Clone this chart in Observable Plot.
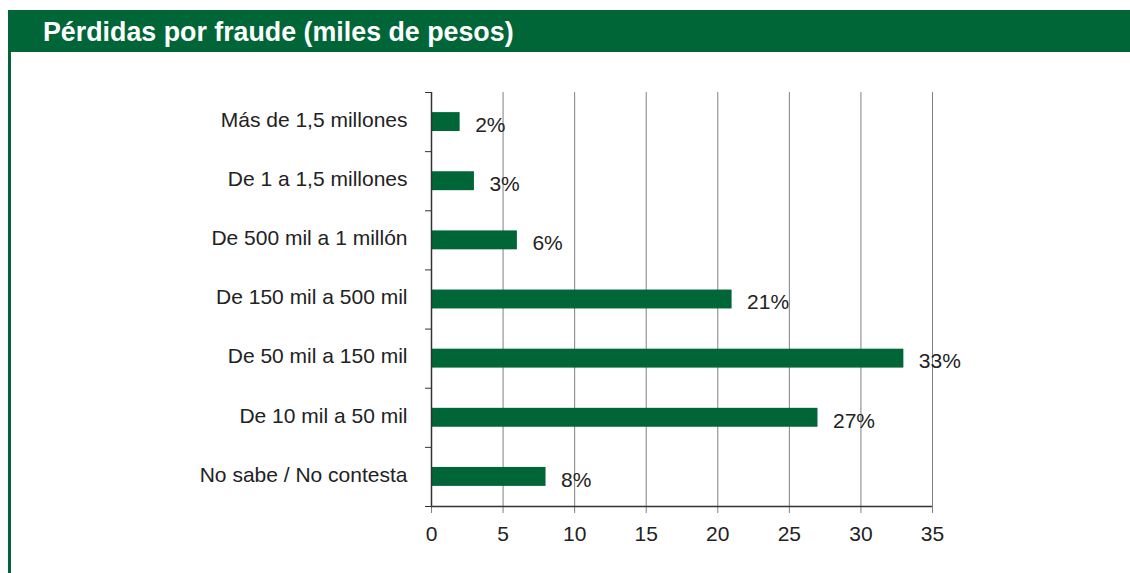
<!DOCTYPE html>
<html>
<head>
<meta charset="utf-8">
<script src="https://cdn.jsdelivr.net/npm/d3@7"></script>
<script src="https://cdn.jsdelivr.net/npm/@observablehq/plot@0.6"></script>
<style>
  html, body { margin: 0; padding: 0; background: #fff; width: 1130px; height: 573px; overflow: hidden; }
  #header { position: absolute; left: 8px; top: 10px; width: 1122px; height: 42px; background: #006638;
    color: #fff; font-family: "Liberation Sans", Arial, sans-serif; font-weight: bold; font-size: 26.8px;
    line-height: 45px; box-sizing: border-box; padding-left: 35px; }
  #leftline { position: absolute; left: 8px; top: 52px; width: 3px; height: 521px; background: #006638; }
  #chart { position: absolute; left: 0; top: 52px; }
</style>
</head>
<body>
<div id="header">Pérdidas por fraude (miles de pesos)</div>
<div id="leftline"></div>
<div id="chart"></div>
<script>
const categories = [
  "Más de 1,5 millones",
  "De 1 a 1,5 millones",
  "De 500 mil a 1 millón",
  "De 150 mil a 500 mil",
  "De 50 mil a 150 mil",
  "De 10 mil a 50 mil",
  "No sabe / No contesta"
];
const values = [2, 3, 6, 21, 33, 27, 8];
const xTicks = [0, 5, 10, 15, 20, 25, 30, 35];

const data = categories.map((c, i) => ({cat: c, idx: i, value: values[i]}));
const idxTicks = categories.map((c, i) => i);
const boundaries = categories.map((c, i) => i - 0.5).concat([categories.length - 0.5]);
const half = 0.16;
const green = "#006638";
const font = "Liberation Sans, Arial, sans-serif";

const plot = Plot.plot({
  width: 1130,
  height: 521,
  marginLeft: 431,
  marginRight: 198,
  marginTop: 40,
  marginBottom: 67,
  style: {fontFamily: font, fontSize: "21px", color: "#222", background: "transparent"},
  x: {domain: [0, 35]},
  y: {domain: [-0.5, categories.length - 0.5], reverse: true},
  marks: [
    Plot.gridX(xTicks, {stroke: "#808080", strokeOpacity: 1, strokeWidth: 1}),
    Plot.rect(data, {x1: 0, x2: "value", y1: d => d.idx - half, y2: d => d.idx + half, fill: green}),
    Plot.text(data, {x: "value", y: "idx", text: d => d.value + "%", textAnchor: "start", dx: 15, dy: 3, fontSize: 21, fill: "#222"}),
    Plot.axisX(xTicks, {tickSize: 7, tickPadding: 13, stroke: "#808080", fontSize: 21, fill: "#222", label: null}),
    Plot.axisY(boundaries, {tickSize: 6, tickFormat: () => "", stroke: "#333", label: null}),
    Plot.axisY(idxTicks, {tickSize: 0, tickPadding: 24, dy: -2, tickFormat: i => categories[i], fontSize: 21, fill: "#222", label: null}),
    Plot.ruleX([0], {stroke: "#333", strokeWidth: 1.5}),
    Plot.ruleY([categories.length - 0.5], {stroke: "#333", strokeWidth: 1.5})
  ]
});
document.getElementById("chart").appendChild(plot);
</script>
</body>
</html>
